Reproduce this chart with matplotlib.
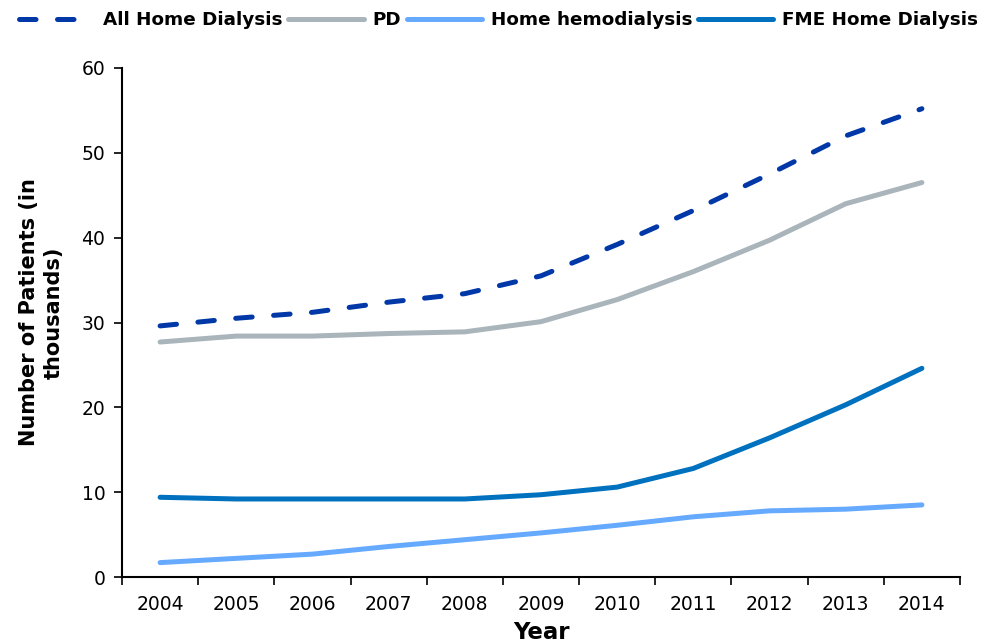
import matplotlib
matplotlib.use('Agg')
import matplotlib.pyplot as plt
import numpy as np
from matplotlib.ticker import FixedLocator, NullFormatter

years = ['2004', '2005', '2006', '2007', '2008', '2009', '2010', '2011', '2012', '2013', '2014']
all_home = [29.6, 30.5, 31.2, 32.4, 33.4, 35.5, 39.2, 43.2, 47.5, 52.0, 55.2]
pd_vals = [27.7, 28.4, 28.4, 28.7, 28.9, 30.1, 32.7, 36.0, 39.7, 44.0, 46.5]
home_hemo = [1.7, 2.2, 2.7, 3.6, 4.4, 5.2, 6.1, 7.1, 7.8, 8.0, 8.5]
fme_home = [9.4, 9.2, 9.2, 9.2, 9.2, 9.7, 10.6, 12.8, 16.4, 20.3, 24.6]

plt.rcParams['font.family'] = ['DejaVu Sans']

fig = plt.figure(figsize=(10.05, 6.42), dpi=100)
ax = fig.add_axes([0.1214, 0.1012, 0.8338, 0.7929])

x = np.arange(len(years))
lw = 3.6
ax.plot(x, all_home, color='#0038A8', lw=lw, dashes=(3.3, 4.3), dash_capstyle='round',
        label='All Home Dialysis')
ax.plot(x, pd_vals, color='#A9B4BB', lw=lw, solid_capstyle='round', label='PD')
ax.plot(x, home_hemo, color='#66AAFF', lw=lw, solid_capstyle='round', label='Home hemodialysis')
ax.plot(x, fme_home, color='#0071BF', lw=lw, solid_capstyle='round', label='FME Home Dialysis')

ax.set_xlim(-0.5, len(years) - 0.5)
ax.set_ylim(0, 60)
ax.set_yticks(np.arange(0, 61, 10))

# category axis: ticks on boundaries, labels centred between them
ax.xaxis.set_major_locator(FixedLocator(np.arange(-0.5, len(years), 1.0)))
ax.xaxis.set_major_formatter(NullFormatter())
ax.xaxis.set_minor_locator(FixedLocator(x))
ax.set_xticklabels(years, minor=True)
ax.tick_params(axis='x', which='minor', length=0, pad=13, labelsize=13.5)
ax.tick_params(axis='x', which='major', length=6, width=1.2, direction='out')
ax.tick_params(axis='y', length=6, width=1.2, direction='out', labelsize=13.5, pad=6)

for side in ['top', 'right']:
    ax.spines[side].set_visible(False)
for side in ['left', 'bottom']:
    ax.spines[side].set_linewidth(1.5)

ax.set_xlabel('Year', fontsize=16.5, fontweight='bold', labelpad=5)
ax.set_ylabel('Number of Patients (in\nthousands)', fontsize=15, fontweight='bold',
              linespacing=1.3)
ax.yaxis.set_label_coords(-0.069, 0.52)

fig.legend(loc='upper left', bbox_to_anchor=(0.008, 1.0), ncol=4, frameon=False,
           prop={'weight': 'bold', 'size': 13.2}, handlelength=4.1, handletextpad=0.5,
           columnspacing=0.3, borderaxespad=0.2)

fig.savefig('out.png', dpi=100)
